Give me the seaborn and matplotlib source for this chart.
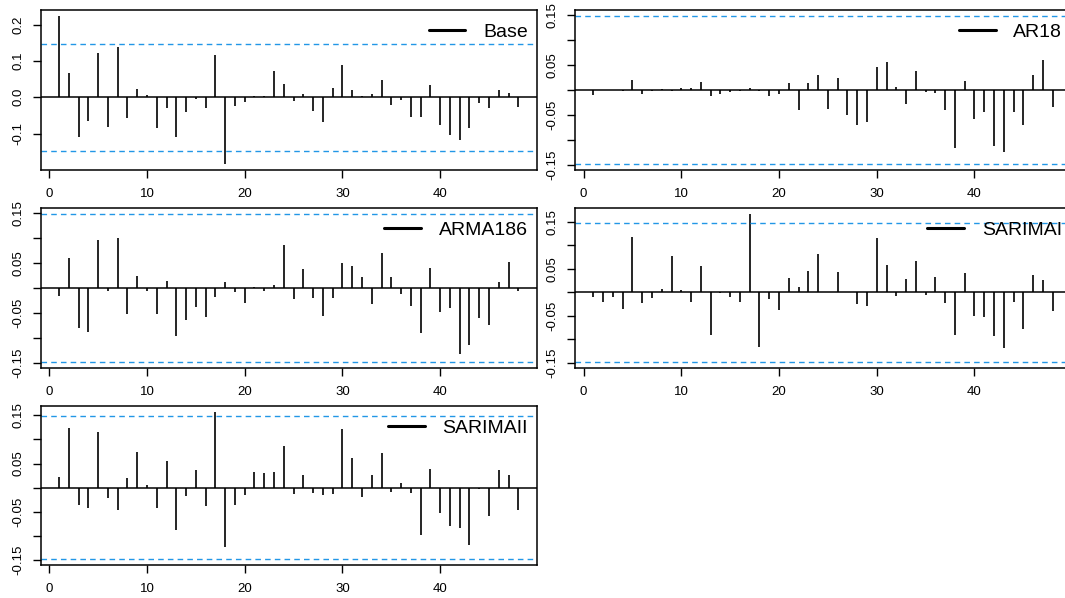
import numpy as np
import pandas as pd
import matplotlib
matplotlib.use("Agg")
import matplotlib.pyplot as plt
from matplotlib.lines import Line2D
import seaborn as sns

lags = list(range(1, 49))

base = [0.224, 0.068, -0.110, -0.065, 0.121, -0.082, 0.138, -0.057, 0.023, 0.006,
        -0.086, -0.030, -0.110, -0.041, -0.006, -0.030, 0.116, -0.184, -0.023, -0.013,
        0.004, 0.003, 0.073, 0.037, -0.010, 0.008, -0.039, -0.068, 0.026, 0.089,
        0.019, 0.003, 0.010, 0.048, -0.021, -0.007, -0.053, -0.054, 0.034, -0.077,
        -0.103, -0.119, -0.084, -0.016, -0.029, 0.020, 0.012, -0.026]

ar18 = [-0.009, 0.000, 0.000, -0.002, 0.020, -0.008, -0.002, 0.001, -0.002, 0.003,
        0.004, 0.015, -0.011, -0.007, -0.003, -0.001, 0.004, -0.001, -0.012, -0.007,
        0.013, -0.040, 0.013, 0.030, -0.038, 0.023, -0.049, -0.069, -0.063, 0.046,
        0.055, 0.005, -0.027, 0.038, -0.003, -0.005, -0.039, -0.115, 0.018, -0.057,
        -0.044, -0.111, -0.124, -0.043, -0.070, 0.030, 0.059, -0.033]

arma186 = [-0.016, 0.060, -0.081, -0.088, 0.097, -0.006, 0.101, -0.053, 0.024, -0.006,
           -0.052, 0.014, -0.097, -0.064, -0.038, -0.058, -0.019, 0.012, -0.008, -0.030,
           0.002, -0.007, 0.007, 0.087, -0.023, 0.038, -0.021, -0.057, -0.021, 0.050,
           0.044, 0.022, -0.032, 0.070, 0.023, -0.013, -0.037, -0.091, 0.040, -0.048,
           -0.040, -0.132, -0.115, -0.060, -0.074, 0.012, 0.053, -0.006]

sarimai = [-0.010, -0.021, -0.011, -0.035, 0.117, -0.022, -0.012, 0.006, 0.078, 0.004,
           -0.021, 0.055, -0.092, -0.001, -0.010, -0.021, 0.166, -0.116, -0.015, -0.037,
           0.031, 0.011, 0.045, 0.081, 0.001, 0.043, 0.001, -0.026, -0.030, 0.116,
           0.058, -0.008, 0.028, 0.066, -0.005, 0.033, -0.023, -0.090, 0.041, -0.051,
           -0.052, -0.094, -0.118, -0.021, -0.079, 0.036, 0.026, -0.039]

sarimaii = [0.023, 0.124, -0.035, -0.043, 0.115, -0.022, -0.047, 0.021, 0.074, 0.005,
            -0.043, 0.056, -0.087, -0.017, 0.037, -0.039, 0.157, -0.122, -0.036, -0.015,
            0.033, 0.030, 0.033, 0.087, -0.014, 0.027, -0.012, -0.015, -0.014, 0.121,
            0.062, -0.019, 0.026, 0.072, -0.009, 0.010, -0.012, -0.098, 0.039, -0.052,
            -0.080, -0.084, -0.119, -0.003, -0.058, 0.036, 0.026, -0.046]

series_names = ["Base", "AR18", "ARMA186", "SARIMAI", "SARIMAII"]
series_values = [base, ar18, arma186, sarimai, sarimaii]
ci_bound = 0.148

x_ticks = [0, 10, 20, 30, 40]
y_ticks_base = [-0.1, 0.0, 0.1, 0.2]
y_labels_base = ["-0.1", "0.0", "0.1", "0.2"]
y_ticks_other = [-0.15, -0.10, -0.05, 0.0, 0.05, 0.10, 0.15]
y_labels_other = ["-0.15", "", "-0.05", "", "0.05", "", "0.15"]

sns.set_style("ticks")
plt.rcParams.update({
    "font.family": ["Liberation Sans", "DejaVu Sans"],
    "axes.unicode_minus": False,
    "axes.linewidth": 1.1,
    "axes.edgecolor": "black",
    "text.color": "black",
    "xtick.color": "black",
    "ytick.color": "black",
    "xtick.major.size": 5.8,
    "ytick.major.size": 5.8,
    "xtick.major.width": 1.0,
    "ytick.major.width": 1.0,
    "xtick.labelsize": 9.5,
    "ytick.labelsize": 9.5,
})

W, H = 1065, 598
fig = plt.figure(figsize=(W / 100, H / 100), dpi=100)

# panel boxes in pixels: (left, top, width, height)
boxes = [(40.7, 10, 496, 160), (575, 10, 496, 160),
         (40.7, 208.3, 496, 159.4), (575, 208.3, 496, 159.4),
         (40.7, 406, 496, 159)]

ci_color = "#2297E6"

for name, vals, (l, t, w, h) in zip(series_names, series_values, boxes):
    ax = fig.add_axes([l / W, (H - t - h) / H, w / W, h / H])
    df = pd.DataFrame({"lag": lags, "acf": vals})
    ax.vlines(df["lag"], 0, df["acf"], color="black", lw=1.2)
    ax.axhline(0, color="black", lw=1.1)
    ax.axhline(ci_bound, color=ci_color, lw=1.0, ls=(0, (4, 3)))
    ax.axhline(-ci_bound, color=ci_color, lw=1.0, ls=(0, (4, 3)))
    xlo, xhi = min(lags), max(lags)
    xr = xhi - xlo
    ax.set_xlim(xlo - 0.04 * xr, xhi + 0.04 * xr)
    ylo = min(min(vals), -ci_bound)
    yhi = max(max(vals), ci_bound)
    yr = yhi - ylo
    ax.set_ylim(ylo - 0.04 * yr, yhi + 0.04 * yr)
    ax.set_xticks(x_ticks)
    if name == "Base":
        ax.set_yticks(y_ticks_base)
        ax.set_yticklabels(y_labels_base)
    else:
        ax.set_yticks(y_ticks_other)
        ax.set_yticklabels(y_labels_other)
    ax.tick_params(axis="y", labelrotation=90, pad=6)
    for lab in ax.get_yticklabels():
        lab.set_va("center")
    ax.tick_params(axis="x", pad=7.5)
    for sp in ax.spines.values():
        sp.set_visible(True)
    ax.set_xlabel("")
    ax.set_ylabel("")
    handle = Line2D([0], [0], color="black", lw=2.2)
    ax.legend([handle], [name], loc="upper right", frameon=False,
              fontsize=14, handlelength=1.9, handletextpad=0.9,
              borderpad=0, borderaxespad=0,
              bbox_to_anchor=(1 - 9 / w, 1 - 13 / h))

fig.savefig("out.png", dpi=100)
